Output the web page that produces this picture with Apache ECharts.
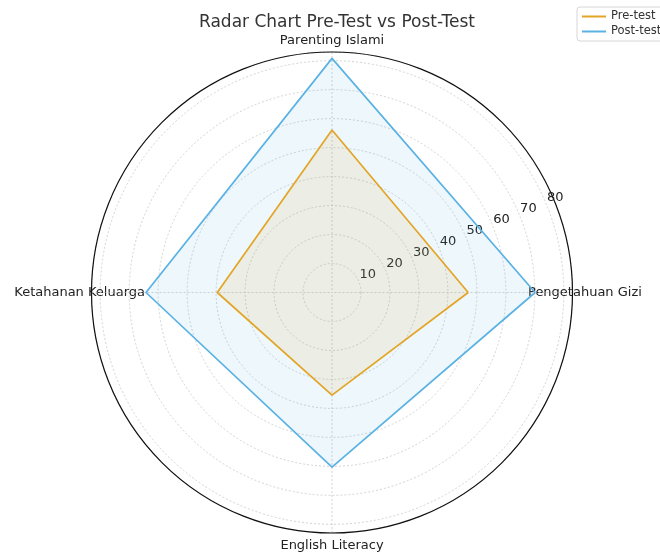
<!DOCTYPE html>
<html>
<head>
<meta charset="utf-8">
<script src="https://cdn.jsdelivr.net/npm/echarts@6/dist/echarts.min.js"></script>
<style>
  html, body { margin: 0; padding: 0; background: #fff; }
  #chart { width: 660px; height: 554px; }
</style>
</head>
<body>
<div id="chart"></div>
<script>
// data
const categories = ['Pengetahuan Gizi', 'Parenting Islami', 'Ketahanan Keluarga', 'English Literacy'];
const categoryAngles = [0, 90, 180, 270];
const preTest = [47, 56.1, 39.6, 35.4];
const postTest = [70.1, 80.8, 64.2, 60.3];
const radiusTicks = [10, 20, 30, 40, 50, 60, 70, 80];
const rMax = 83;

// closed polygon as [radius, angle] pairs
function toPolar(vals) {
  const pts = vals.map((v, i) => [v, categoryAngles[i]]);
  pts.push([vals[0], 360]);
  return pts;
}

// per-label rich names so each side can be padded differently
const richKey = { 0: 'r', 90: 't', 180: 'l', 270: 'b' };

const chart = echarts.init(document.getElementById('chart'));

const option = {
  backgroundColor: '#fff',
  animation: false,
  textStyle: { fontFamily: 'DejaVu Sans' },
  title: {
    text: 'Radar Chart Pre-Test vs Post-Test',
    left: 332,
    textAlign: 'center',
    top: 9,
    textStyle: { fontSize: 17, fontWeight: 'normal', color: '#333', fontFamily: 'DejaVu Sans' }
  },
  legend: {
    left: 577,
    top: 7,
    orient: 'vertical',
    icon: 'rect',
    itemWidth: 24,
    itemHeight: 2,
    itemGap: 2,
    padding: [3, 6, 3, 5],
    borderColor: '#d6d6d6',
    borderWidth: 1,
    borderRadius: 3,
    backgroundColor: '#fff',
    textStyle: { fontSize: 11.5, color: '#333', lineHeight: 13, fontFamily: 'DejaVu Sans' },
    data: ['Pre-test', 'Post-test']
  },
  polar: [
    { center: [332, 292.5], radius: 240.5 },
    { center: [341, 286], radius: 240.5 }
  ],
  angleAxis: [
    {
      polarIndex: 0,
      type: 'value',
      min: 0,
      max: 360,
      interval: 90,
      startAngle: 0,
      clockwise: false,
      axisLine: { show: true, lineStyle: { color: '#111', width: 1.2 } },
      axisTick: { show: false },
      splitLine: { show: true, lineStyle: { color: '#c8c8c8', type: [2, 2], width: 0.8 } },
      axisLabel: {
        margin: -60,
        color: '#222',
        fontSize: 13,
        formatter: function (v) {
          const i = categoryAngles.indexOf(v);
          if (i < 0) return '';
          return '{' + richKey[v] + '|' + categories[i] + '}';
        },
        rich: {
          r: { fontSize: 13, color: '#222', padding: [0, 0, 0, 15.5] },
          l: { fontSize: 13, color: '#222', padding: [0, 6.5, 0, 0] },
          t: { fontSize: 13, color: '#222', padding: [0, 0, 65, 0] },
          b: { fontSize: 13, color: '#222', padding: [66, 0, 0, 0] }
        }
      }
    },
    {
      polarIndex: 1,
      type: 'value',
      min: 0,
      max: 360,
      startAngle: 22.5,
      clockwise: false,
      axisLine: { show: false },
      axisTick: { show: false },
      axisLabel: { show: false },
      splitLine: { show: false }
    }
  ],
  radiusAxis: [
    {
      polarIndex: 0,
      type: 'value',
      min: 0,
      max: rMax,
      interval: 10,
      axisLine: { show: false },
      axisTick: { show: false },
      axisLabel: { show: false },
      splitLine: { show: true, lineStyle: { color: '#c8c8c8', type: [2, 2], width: 0.8 } }
    },
    {
      polarIndex: 1,
      type: 'value',
      min: 0,
      max: rMax,
      interval: 10,
      axisLine: { show: false },
      axisTick: { show: false },
      splitLine: { show: false },
      axisLabel: {
        margin: 0,
        align: 'center',
        verticalAlign: 'middle',
        fontSize: 13,
        color: '#222',
        formatter: function (v) {
          return radiusTicks.indexOf(v) >= 0 ? String(v) : '';
        }
      }
    }
  ],
  series: [
    {
      name: 'Post-test',
      type: 'line',
      coordinateSystem: 'polar',
      polarIndex: 0,
      symbol: 'none',
      data: toPolar(postTest),
      itemStyle: { color: '#5ab2e3' },
      lineStyle: { color: '#5ab2e3', width: 1.7 },
      areaStyle: { color: '#5ab2e3', opacity: 0.1 },
      z: 3
    },
    {
      name: 'Pre-test',
      type: 'line',
      coordinateSystem: 'polar',
      polarIndex: 0,
      symbol: 'none',
      data: toPolar(preTest),
      itemStyle: { color: '#e2a526' },
      lineStyle: { color: '#e2a526', width: 1.7 },
      areaStyle: { color: '#e2a526', opacity: 0.1 },
      z: 4
    }
  ]
};

chart.setOption(option);
</script>
</body>
</html>
